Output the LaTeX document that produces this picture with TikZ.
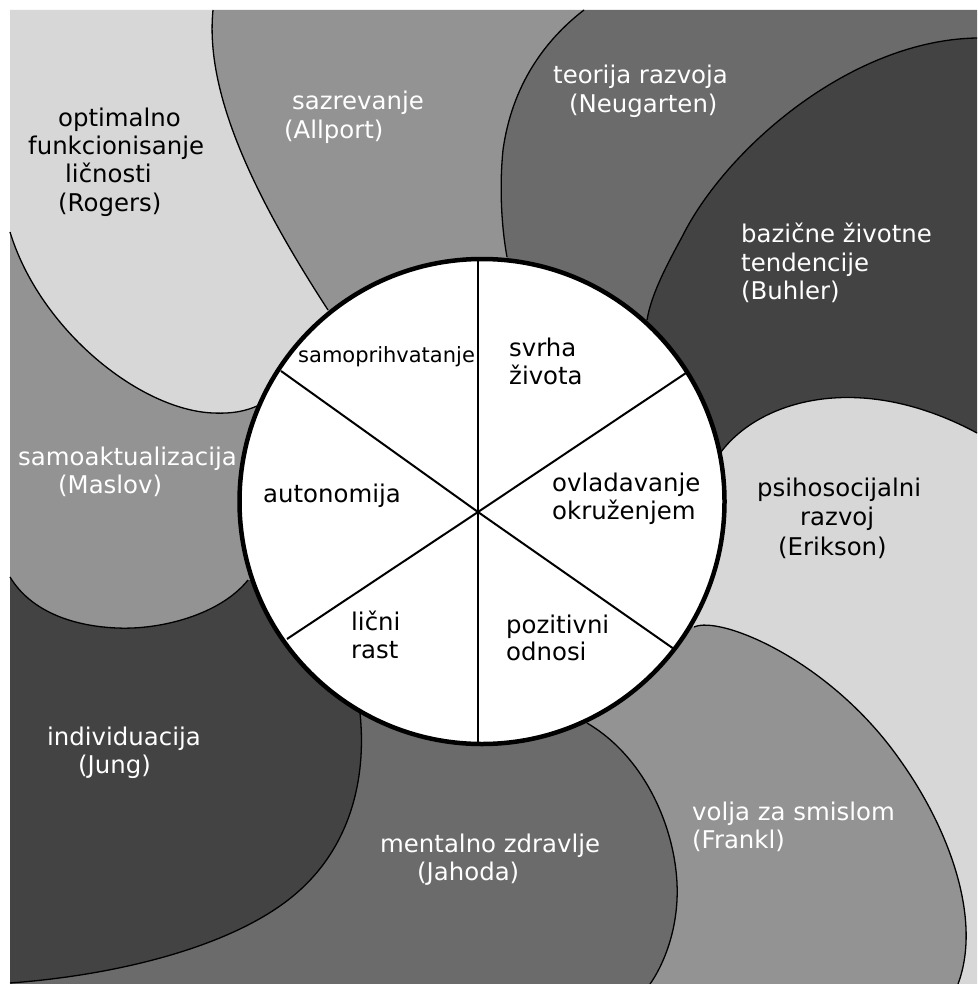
\documentclass[tikz,border=0pt]{standalone}
\usepackage{fontspec}
\setmainfont{DejaVu Sans}
\definecolor{lightg}{RGB}{215,215,215}
\definecolor{midg}{RGB}{147,147,147}
\definecolor{darkg}{RGB}{107,107,107}
\definecolor{darkestg}{RGB}{67,67,67}
\begin{document}
\begin{tikzpicture}[x=1pt,y=-1pt,
  lbl/.style={anchor=base west, inner sep=0pt, font=\fontsize{24.4}{29}\selectfont},
  wt/.style={lbl, text=white},
  bk/.style={lbl, text=black},
  bnd/.style={line width=1.3pt, black},
  spoke/.style={line width=2pt, black}]
\useasboundingbox (0,0) rectangle (977,984);
\fill[white] (0,0) rectangle (977,984);
\coordinate (C) at (480,501);
\coordinate (S) at (478,512);
% regions
\fill[lightg] (10,10) -- (213,10) .. controls (205,90) and (250,190) .. (328,310) -- (C) -- (257,406) .. controls (248,410) and (235,414) .. (213,413) .. controls (140,410) and (40,330) .. (10,232) -- cycle;
\fill[midg] (213,10) .. controls (205,90) and (250,190) .. (328,310) -- (C) -- (507,257) .. controls (502,230) and (499,190) .. (503,150) .. controls (512,85) and (545,40) .. (584,10) -- cycle;
\fill[darkg] (584,10) .. controls (545,40) and (512,85) .. (503,150) .. controls (499,190) and (502,230) .. (507,257) -- (C) -- (647,320) .. controls (651,296) and (664,270) .. (682,237) .. controls (725,150) and (850,40) .. (977,38) -- (977,10) -- cycle;
\fill[darkestg] (977,38) .. controls (850,40) and (725,150) .. (682,237) .. controls (664,270) and (651,296) .. (647,320) -- (C) -- (721,452) .. controls (760,400) and (860,370) .. (977,433) -- cycle;
\fill[lightg] (977,433) .. controls (860,370) and (760,400) .. (721,452) -- (C) -- (694,627) .. controls (720,615) and (830,660) .. (900,760) .. controls (950,830) and (982,920) .. (958,984) -- (977,984) -- cycle;
\fill[midg] (958,984) .. controls (982,920) and (950,830) .. (900,760) .. controls (830,660) and (720,615) .. (694,627) -- (C) -- (587,723) .. controls (650,760) and (680,840) .. (677,900) .. controls (675,940) and (660,970) .. (650,984) -- cycle;
\fill[darkg] (650,984) .. controls (660,970) and (675,940) .. (677,900) .. controls (680,840) and (650,760) .. (587,723) -- (C) -- (360,713) .. controls (366,770) and (355,840) .. (300,890) .. controls (240,945) and (120,975) .. (10,983) -- (10,984) -- cycle;
\fill[darkestg] (10,983) .. controls (120,975) and (240,945) .. (300,890) .. controls (355,840) and (366,770) .. (360,713) -- (C) -- (248,580) .. controls (220,615) and (160,630) .. (117,628) .. controls (70,626) and (30,610) .. (10,577) -- cycle;
\fill[midg] (10,232) .. controls (40,330) and (140,410) .. (213,413) .. controls (235,414) and (248,410) .. (257,406) -- (C) -- (248,580) .. controls (220,615) and (160,630) .. (117,628) .. controls (70,626) and (30,610) .. (10,577) -- cycle;
% boundaries
\draw[bnd] (213,10) .. controls (205,90) and (250,190) .. (328,310);
\draw[bnd] (10,232) .. controls (40,330) and (140,410) .. (213,413) .. controls (235,414) and (248,410) .. (257,406);
\draw[bnd] (584,10) .. controls (545,40) and (512,85) .. (503,150) .. controls (499,190) and (502,230) .. (507,257);
\draw[bnd] (977,38) .. controls (850,40) and (725,150) .. (682,237) .. controls (664,270) and (651,296) .. (647,320);
\draw[bnd] (721,452) .. controls (760,400) and (860,370) .. (977,433);
\draw[bnd] (694,627) .. controls (720,615) and (830,660) .. (900,760) .. controls (950,830) and (982,920) .. (958,984);
\draw[bnd] (587,723) .. controls (650,760) and (680,840) .. (677,900) .. controls (675,940) and (660,970) .. (650,984);
\draw[bnd] (360,713) .. controls (366,770) and (355,840) .. (300,890) .. controls (240,945) and (120,975) .. (10,983);
\draw[bnd] (248,580) .. controls (220,615) and (160,630) .. (117,628) .. controls (70,626) and (30,610) .. (10,577);
% centre circle
\fill[white] (482,501.5) circle[radius=242.5pt];
\draw[spoke] (S) -- (478,258);
\draw[spoke] (S) -- (478,745);
\draw[spoke] (S) -- (281,371);
\draw[spoke] (S) -- (686,373);
\draw[spoke] (S) -- (287,639);
\draw[spoke] (S) -- (674,649);
\draw[line width=4.5pt] (482,501.5) circle[radius=242.5pt];
% outer labels
\node[bk] (rog1) at (58,127) {optimalno};
\node[bk] (rog2) at (28,155) {funkcionisanje};
\node[bk] (rog3) at (65,183) {ličnosti};
\node[bk] (rog4) at (58,212) {(Rogers)};
\node[wt] (all1) at (292,110) {sazrevanje};
\node[wt] (all2) at (284,139) {(Allport)};
\node[wt] (neu1) at (553,84) {teorija razvoja};
\node[wt] (neu2) at (569,113) {(Neugarten)};
\node[wt] (buh1) at (741,243) {bazične životne};
\node[wt] (buh2) at (741,271) {tendencije};
\node[wt] (buh3) at (741,299) {(Buhler)};
\node[bk] (eri1) at (757,496) {psihosocijalni};
\node[bk] (eri2) at (800,525) {razvoj};
\node[bk] (eri3) at (778,555) {(Erikson)};
\node[wt] (fra1) at (692,820) {volja za smislom};
\node[wt] (fra2) at (692,848) {(Frankl)};
\node[wt] (jah1) at (380,852) {mentalno zdravlje};
\node[wt] (jah2) at (417,880) {(Jahoda)};
\node[wt] (jun1) at (47,745) {individuacija};
\node[wt] (jun2) at (78,773) {(Jung)};
\node[wt] (mas1) at (18,465) {samoaktualizacija};
\node[wt] (mas2) at (58,493) {(Maslov)};
% inner labels
\node[bk, font=\fontsize{21}{25}\selectfont] (sam) at (298,362) {samoprihvatanje};
\node[bk] (svr1) at (509,356) {svrha};
\node[bk] (svr2) at (509,384) {života};
\node[bk] (aut) at (263,502) {autonomija};
\node[bk] (ovl1) at (552,491) {ovladavanje};
\node[bk] (ovl2) at (552,519) {okruženjem};
\node[bk] (lic1) at (351,630) {lični};
\node[bk] (lic2) at (351,658) {rast};
\node[bk] (poz1) at (506,633) {pozitivni};
\node[bk] (poz2) at (506,660) {odnosi};
\end{tikzpicture}
\end{document}
